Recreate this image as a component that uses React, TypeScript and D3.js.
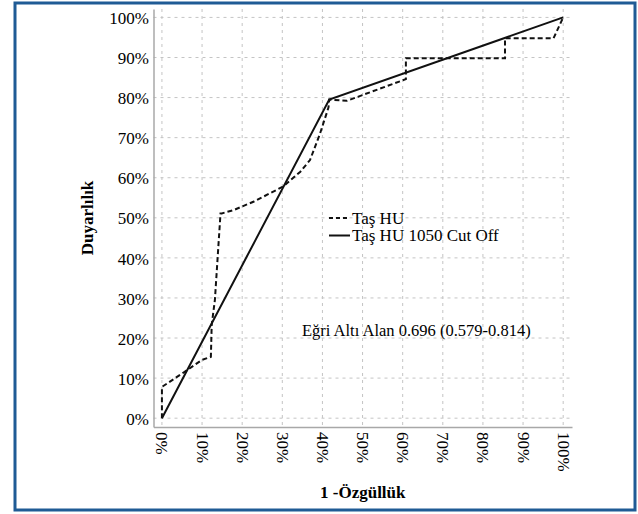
import React, { useRef, useEffect } from "react";
import * as d3 from "d3";

const W = 638;
const H = 514;

// axis ticks (shared by both axes)
const tickValues = [0, 0.1, 0.2, 0.3, 0.4, 0.5, 0.6, 0.7, 0.8, 0.9, 1];
const tickLabels = ["0%", "10%", "20%", "30%", "40%", "50%", "60%", "70%", "80%", "90%", "100%"];

// ROC curve for "Taş HU" (1 - specificity, sensitivity)
const huFpr = [0, 0, 0.066, 0.099, 0.122, 0.124, 0.132, 0.146, 0.149, 0.178, 0.228, 0.302, 0.345, 0.369, 0.394, 0.415, 0.417, 0.461, 0.608, 0.608, 0.855, 0.855, 0.976, 1];
const huTpr = [0, 0.078, 0.122, 0.145, 0.153, 0.232, 0.295, 0.511, 0.511, 0.519, 0.54, 0.578, 0.615, 0.644, 0.71, 0.775, 0.795, 0.792, 0.846, 0.898, 0.898, 0.948, 0.948, 1];

// ROC for the 1050 HU cut off
const cutFpr = [0, 0.417, 1];
const cutTpr = [0, 0.795, 1];

const seriesNames = ["Taş HU", "Taş HU 1050 Cut Off"];
const aucLabel = "Eğri Altı Alan 0.696 (0.579-0.814)";
const xTitle = "1 -Özgüllük";
const yTitle = "Duyarlılık";

const FONT = "Liberation Serif, Times New Roman, Times, DejaVu Serif, serif";

function RocChart() {
  const svgRef = useRef<SVGSVGElement>(null);

  useEffect(() => {
    const svg = d3.select(svgRef.current);
    svg.selectAll("*").remove();

    const left = 153.5, right = 572, top = 9, bottom = 427;

    const x = d3.scaleLinear().domain([-0.021, 1.022]).range([left, right]);
    const y = d3.scaleLinear().domain([-0.022, 1.021]).range([bottom, top]);

    // frame
    svg.append("rect")
      .attr("x", 15).attr("y", 3)
      .attr("width", 620).attr("height", 507)
      .attr("fill", "#fff")
      .attr("stroke", "#1f5b95")
      .attr("stroke-width", 3);

    // grid
    const grid = svg.append("g").attr("stroke", "#c4c4c4").attr("stroke-width", 1).attr("stroke-dasharray", "3,4");
    grid.selectAll(".v").data(tickValues).join("line")
      .attr("x1", d => x(d)).attr("x2", d => x(d))
      .attr("y1", top).attr("y2", bottom);
    grid.selectAll(".h").data(tickValues).join("line")
      .attr("x1", left).attr("x2", right)
      .attr("y1", d => y(d)).attr("y2", d => y(d));

    // axes
    const xAxis = svg.append("g")
      .attr("transform", `translate(0,${bottom})`)
      .call(d3.axisBottom(x).tickValues(tickValues).tickSize(0)
        .tickFormat((_, i) => tickLabels[i]));
    const yAxis = svg.append("g")
      .attr("transform", `translate(${left},0)`)
      .call(d3.axisLeft(y).tickValues(tickValues).tickSize(0).tickPadding(4.5)
        .tickFormat((_, i) => tickLabels[i]));

    [xAxis, yAxis].forEach(a => {
      a.attr("font-family", null).attr("font-size", null);
      a.style("font-family", FONT).style("font-size", "17px");
      a.select(".domain").attr("stroke", "#a8a8a8").attr("stroke-width", 1.5);
      a.selectAll("text").attr("fill", "#000");
    });
    yAxis.selectAll("text").attr("dy", "0.36em");
    xAxis.selectAll("text")
      .attr("x", 0).attr("y", 0).attr("dy", 0)
      .attr("text-anchor", "start")
      .attr("transform", "translate(-6,5) rotate(90)");

    // lines
    const line = d3.line<[number, number]>().x(d => x(d[0])).y(d => y(d[1]));
    const huPts = huFpr.map((v, i) => [v, huTpr[i]] as [number, number]);
    const cutPts = cutFpr.map((v, i) => [v, cutTpr[i]] as [number, number]);

    svg.append("path")
      .attr("d", line(huPts))
      .attr("fill", "none")
      .attr("stroke", "#111")
      .attr("stroke-width", 2)
      .attr("stroke-dasharray", "5,3");
    svg.append("path")
      .attr("d", line(cutPts))
      .attr("fill", "none")
      .attr("stroke", "#111")
      .attr("stroke-width", 2);

    // legend
    const lg = svg.append("g").style("font-family", FONT).style("font-size", "17px").attr("fill", "#000");
    seriesNames.forEach((name, i) => {
      const ly = 218 + i * 17.5;
      lg.append("line")
        .attr("x1", 329).attr("x2", 350).attr("y1", ly).attr("y2", ly)
        .attr("stroke", "#111").attr("stroke-width", 2)
        .attr("stroke-dasharray", i === 0 ? "4,3" : null);
      lg.append("text").attr("x", 352).attr("y", ly + 5.5).text(name);
    });

    // AUC annotation
    svg.append("text")
      .attr("x", 302).attr("y", 336)
      .style("font-family", FONT).style("font-size", "16.5px").attr("fill", "#000")
      .text(aucLabel);

    // axis titles
    svg.append("text")
      .attr("x", (left + right) / 2).attr("y", 498)
      .attr("text-anchor", "middle")
      .style("font-family", FONT).style("font-size", "17px").style("font-weight", "bold").attr("fill", "#000")
      .text(xTitle);
    svg.append("text")
      .attr("transform", `translate(93,${(top + bottom) / 2}) rotate(-90)`)
      .attr("text-anchor", "middle")
      .style("font-family", FONT).style("font-size", "17px").style("font-weight", "bold").attr("fill", "#000")
      .text(yTitle);
  }, []);

  return <svg ref={svgRef} width={W} height={H} style={{ position: "absolute", left: 0, top: 0, background: "#fff" }} />;
}

export default function App() {
  return <RocChart />;
}
